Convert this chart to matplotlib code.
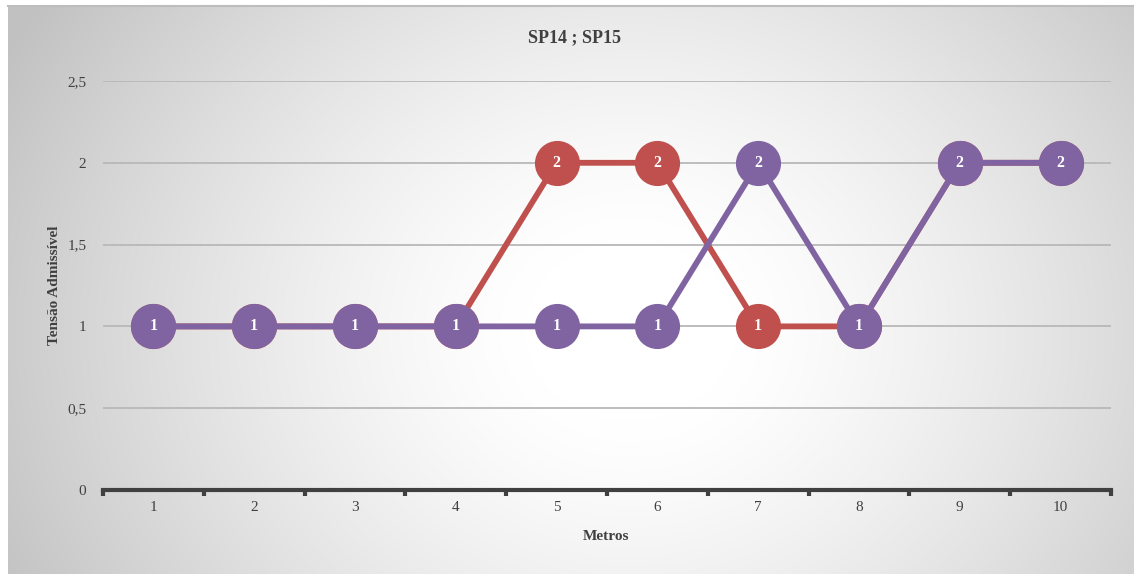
import numpy as np
import matplotlib
matplotlib.use("Agg")
import matplotlib.pyplot as plt

# Data
metros = [1, 2, 3, 4, 5, 6, 7, 8, 9, 10]
sp14 = [1, 1, 1, 1, 2, 2, 1, 1, 2, 2]
sp15 = [1, 1, 1, 1, 1, 1, 2, 1, 2, 2]
y_ticks = [0, 0.5, 1, 1.5, 2, 2.5]
y_ticklabels = ["0", "0,5", "1", "1,5", "2", "2,5"]
title = "SP14 ; SP15"
x_title = "Metros"
y_title = "Tensão Admissível"

red = "#C0504D"
purple = "#8064A2"
serif = ["Liberation Serif", "DejaVu Serif"]

W, H = 1134, 574
fig = plt.figure(figsize=(W / 100, H / 100), dpi=100)
fig.patch.set_facecolor("white")

# Chart area background: radial gray-to-white gradient
bx0, by0 = 8, 0
bw, bh = W - 8, H - 6
bg = fig.add_axes([bx0 / W, by0 / H, bw / W, bh / H])
yy, xx = np.mgrid[0:bh, 0:bw]
cx, cy = 630 - bx0, 330 - 6
d = np.sqrt(((xx - cx) / 700.0) ** 2 + ((yy - cy) / 600.0) ** 2)
v = 1.0 - 0.24 * np.clip((d - 0.15) / 0.85, 0, 1) ** 1.3
bg.imshow(np.dstack([v, v, v]), aspect="auto", extent=[0, 1, 0, 1],
          interpolation="bilinear")
bg.axis("off")
# thin gray border on top
fig.add_artist(plt.Line2D([bx0 / W, 1], [1 - 5.5 / H, 1 - 5.5 / H],
                          transform=fig.transFigure, color="#bdbdbd", lw=1.5))

left, right = 103, 1111
top, bottom = 81, 490
ax = fig.add_axes([left / W, 1 - bottom / H, (right - left) / W, (bottom - top) / H])
ax.set_facecolor("none")
ax.set_xlim(0.5, 10.5)
ax.set_ylim(0, 2.5)

for s in ["top", "right", "left"]:
    ax.spines[s].set_visible(False)
ax.spines["bottom"].set_color("#404040")
ax.spines["bottom"].set_linewidth(3.0)

ax.set_yticks(y_ticks)
ax.set_yticklabels(y_ticklabels, fontfamily=serif, fontsize=11, color="#404040")
ax.tick_params(axis="y", length=0, pad=12)
ax.yaxis.grid(True, color="#b8b8b8", lw=1.3)
ax.set_axisbelow(True)

ax.set_xticks(np.arange(0.5, 11, 1.0))
ax.set_xticklabels([])
ax.tick_params(axis="x", which="major", length=4, width=3, color="#404040", direction="out")
ax.set_xticks(metros, minor=True)
ax.set_xticklabels([str(m) for m in metros], minor=True, fontfamily=serif,
                   fontsize=11, color="#404040")
ax.tick_params(axis="x", which="minor", length=0, pad=8)

ms = 32.5
for vals, col, z in [(sp14, red, 3), (sp15, purple, 5)]:
    ax.plot(metros, vals, color=col, lw=4.2, marker="o", markersize=ms,
            markeredgewidth=0, zorder=z, clip_on=False, solid_capstyle="round")
    for x, y in zip(metros, vals):
        ax.text(x, y, str(y), color="white", fontweight="bold", fontfamily=serif,
                fontsize=11.5, ha="center", va="center", zorder=z + 0.5)

fig.text(574 / W, 1 - 38 / H, title, ha="center", va="center",
         fontfamily=serif, fontsize=13, fontweight="bold", color="#404040")
fig.text(606 / W, 1 - 537 / H, x_title, ha="center", va="center",
         fontfamily=serif, fontsize=11, fontweight="bold", color="#404040")
fig.text(54 / W, 1 - 285 / H, y_title, ha="center", va="center", rotation=90,
         fontfamily=serif, fontsize=11, fontweight="bold", color="#404040")

fig.savefig("out.png", dpi=100)
